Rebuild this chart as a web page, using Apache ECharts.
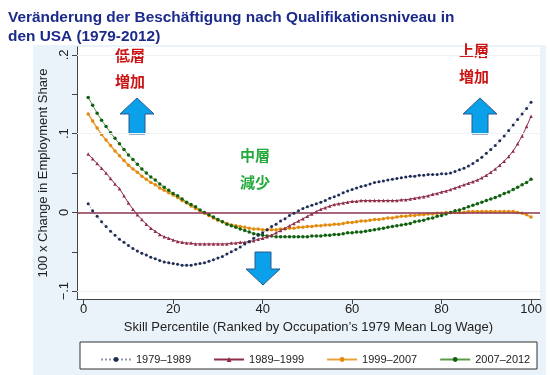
<!DOCTYPE html>
<html>
<head>
<meta charset="utf-8">
<script src="https://cdn.jsdelivr.net/npm/echarts@6/dist/echarts.min.js"></script>
<style>
  html, body { margin: 0; padding: 0; background: #fff; }
  #chart { width: 550px; height: 375px; }
</style>
</head>
<body>
<div id="chart"></div>
<script>
  // Skill percentile 1..100 (x axis)
  var percentiles = [];
  for (var i = 1; i <= 100; i++) percentiles.push(i);

  var seriesNames = ['1979–1989', '1989–1999', '1999–2007', '2007–2012'];

  // 100 x change in employment share, one value per percentile
  var v7989 = [
    0.011, 0.002, -0.005, -0.012, -0.018, -0.024, -0.029, -0.034, -0.038, -0.042,
    -0.046, -0.049, -0.052, -0.054, -0.057, -0.059, -0.061, -0.063, -0.064, -0.065,
    -0.066, -0.067, -0.067, -0.067, -0.066, -0.065, -0.064, -0.062, -0.060, -0.058,
    -0.056, -0.053, -0.050, -0.047, -0.044, -0.040, -0.037, -0.033, -0.029, -0.026,
    -0.022, -0.018, -0.015, -0.011, -0.008, -0.004, -0.001, 0.002, 0.005, 0.007,
    0.009, 0.011, 0.013, 0.015, 0.018, 0.020, 0.022, 0.025, 0.027, 0.029,
    0.031, 0.033, 0.034, 0.036, 0.038, 0.039, 0.040, 0.041, 0.042, 0.043,
    0.044, 0.045, 0.046, 0.046, 0.047, 0.047, 0.048, 0.048, 0.048, 0.049,
    0.049, 0.050, 0.052, 0.054, 0.056, 0.059, 0.062, 0.066, 0.070, 0.075,
    0.080, 0.085, 0.091, 0.097, 0.104, 0.111, 0.118, 0.125, 0.132, 0.140
  ];
  var v8999 = [
    0.074, 0.068, 0.062, 0.056, 0.050, 0.043, 0.036, 0.030, 0.021, 0.012,
    0.004, -0.003, -0.009, -0.015, -0.020, -0.024, -0.028, -0.031, -0.033, -0.035,
    -0.037, -0.038, -0.039, -0.039, -0.040, -0.040, -0.040, -0.040, -0.040, -0.040,
    -0.040, -0.040, -0.039, -0.039, -0.038, -0.038, -0.037, -0.036, -0.034, -0.033,
    -0.031, -0.029, -0.026, -0.023, -0.020, -0.017, -0.014, -0.011, -0.008, -0.005,
    -0.002, 0.001, 0.004, 0.006, 0.008, 0.010, 0.011, 0.012, 0.013, 0.014,
    0.014, 0.015, 0.015, 0.015, 0.015, 0.015, 0.015, 0.015, 0.015, 0.015,
    0.016, 0.016, 0.017, 0.018, 0.019, 0.020, 0.021, 0.023, 0.024, 0.026,
    0.027, 0.029, 0.031, 0.033, 0.035, 0.037, 0.039, 0.041, 0.044, 0.047,
    0.051, 0.055, 0.060, 0.065, 0.071, 0.078, 0.087, 0.097, 0.109, 0.122
  ];
  var v9907 = [
    0.125, 0.116, 0.107, 0.099, 0.092, 0.085, 0.078, 0.072, 0.066, 0.060,
    0.055, 0.051, 0.046, 0.042, 0.038, 0.035, 0.031, 0.028, 0.025, 0.022,
    0.019, 0.015, 0.012, 0.008, 0.005, 0.002, -0.001, -0.004, -0.007, -0.010,
    -0.012, -0.014, -0.016, -0.017, -0.018, -0.019, -0.020, -0.021, -0.021, -0.022,
    -0.022, -0.022, -0.022, -0.021, -0.021, -0.020, -0.020, -0.019, -0.019, -0.018,
    -0.018, -0.017, -0.017, -0.016, -0.016, -0.015, -0.015, -0.014, -0.013, -0.013,
    -0.012, -0.011, -0.011, -0.010, -0.009, -0.009, -0.008, -0.007, -0.007, -0.006,
    -0.005, -0.005, -0.004, -0.004, -0.003, -0.003, -0.002, -0.002, -0.001, -0.001,
    0.000, 0.000, 0.000, 0.000, 0.000, 0.001, 0.001, 0.001, 0.001, 0.001,
    0.001, 0.001, 0.001, 0.001, 0.001, 0.001, 0.000, -0.001, -0.003, -0.006
  ];
  var v0712 = [
    0.146, 0.136, 0.126, 0.117, 0.109, 0.101, 0.094, 0.087, 0.080, 0.073,
    0.067, 0.061, 0.055, 0.050, 0.045, 0.041, 0.036, 0.032, 0.028, 0.024,
    0.021, 0.017, 0.013, 0.010, 0.007, 0.003, 0.000, -0.003, -0.006, -0.009,
    -0.012, -0.015, -0.017, -0.019, -0.021, -0.023, -0.025, -0.027, -0.028, -0.029,
    -0.030, -0.030, -0.031, -0.031, -0.031, -0.031, -0.031, -0.031, -0.031, -0.031,
    -0.030, -0.030, -0.030, -0.029, -0.029, -0.028, -0.028, -0.027, -0.026, -0.026,
    -0.025, -0.025, -0.024, -0.023, -0.022, -0.021, -0.020, -0.019, -0.018, -0.017,
    -0.016, -0.015, -0.014, -0.012, -0.011, -0.010, -0.008, -0.007, -0.005, -0.004,
    -0.002, 0.000, 0.002, 0.003, 0.005, 0.007, 0.009, 0.011, 0.013, 0.015,
    0.017, 0.019, 0.021, 0.024, 0.026, 0.029, 0.032, 0.035, 0.038, 0.042
  ];

  var xTicks = [0, 20, 40, 60, 80, 100];
  var yTicks = [-0.1, -0.05, 0, 0.05, 0.1, 0.15, 0.2];
  var yLabels = [-0.1, 0, 0.1, 0.2];

  function pairs(vals) {
    return percentiles.map(function (p, i) { return [p, vals[i]]; });
  }

  var chart = echarts.init(document.getElementById('chart'));

  var upArrow = function (x, y) {
    // x,y = top centre of arrow
    return [[x, y], [x + 17, y + 16], [x + 8, y + 16], [x + 8, y + 36],
            [x - 8, y + 36], [x - 8, y + 16], [x - 17, y + 16]];
  };
  var downArrow = function (x, y) {
    // x,y = bottom tip of arrow
    return [[x, y], [x + 17, y - 16], [x + 8, y - 16], [x + 8, y - 33],
            [x - 8, y - 33], [x - 8, y - 16], [x - 17, y - 16]];
  };
  var arrowStyle = { fill: '#0aa0ea', stroke: '#2b5b8c', lineWidth: 1 };
  var cjk = '"Noto Sans CJK JP", sans-serif';

  var option = {
    backgroundColor: '#ffffff',
    animation: false,
    textStyle: { fontFamily: 'Liberation Sans, Arial, sans-serif' },
    title: {
      text: 'Veränderung der Beschäftigung nach Qualifikationsniveau in\nden USA (1979-2012)',
      left: 3,
      top: 3,
      textStyle: { color: '#1c2a8c', fontSize: 15.4, fontWeight: 'bold', lineHeight: 19,
                   fontFamily: 'Liberation Sans, Arial, sans-serif' }
    },
    graphic: [
      { type: 'rect', z: -10, shape: { x: 33, y: 45, width: 513, height: 330 },
        style: { fill: '#eaf3f9' } },
      { type: 'rect', z: -9, shape: { x: 77, y: 47, width: 463, height: 252 },
        style: { fill: '#ffffff' } },
      { type: 'rect', z: -8, shape: { x: 80, y: 342, width: 457, height: 27 },
        style: { fill: '#ffffff', stroke: '#333', lineWidth: 1 } },
      { type: 'text', left: 115, top: 48, style: { text: '低層', fill: '#cc1616', font: 'bold 15px ' + cjk } },
      { type: 'text', left: 115, top: 74, style: { text: '増加', fill: '#cc1616', font: 'bold 15px ' + cjk } },
      { type: 'text', left: 459, top: 43, style: { text: '上層', fill: '#cc1616', font: 'bold 15px ' + cjk } },
      { type: 'text', left: 459, top: 69, style: { text: '増加', fill: '#cc1616', font: 'bold 15px ' + cjk } },
      { type: 'text', left: 240, top: 148, style: { text: '中層', fill: '#22aa3a', font: 'bold 15px ' + cjk } },
      { type: 'text', left: 240, top: 175, style: { text: '減少', fill: '#22aa3a', font: 'bold 15px ' + cjk } },
      { type: 'polygon', shape: { points: upArrow(137, 98) }, style: arrowStyle },
      { type: 'polygon', shape: { points: upArrow(480, 98) }, style: arrowStyle },
      { type: 'polygon', shape: { points: downArrow(263, 285) }, style: arrowStyle }
    ],
    legend: {
      left: 95,
      top: 349,
      itemWidth: 30,
      itemHeight: 6,
      itemGap: 22,
      textStyle: { fontSize: 11, color: '#222' },
      data: seriesNames
    },
    grid: { left: 77, right: 10, top: 47, bottom: 76 },
    xAxis: {
      type: 'value',
      min: -1.5,
      max: 102,
      name: 'Skill Percentile (Ranked by Occupation\u2019s 1979 Mean Log Wage)',
      nameLocation: 'middle',
      nameGap: 22,
      nameTextStyle: { fontSize: 13, color: '#222' },
      axisLine: { show: true, onZero: false, lineStyle: { color: '#444' } },
      axisTick: { show: true, length: 5, customValues: xTicks, lineStyle: { color: '#444' } },
      axisLabel: { customValues: xTicks, fontSize: 13, color: '#222', margin: 4 },
      splitLine: { show: false }
    },
    yAxis: {
      type: 'value',
      min: -0.11,
      max: 0.21,
      name: '100 x Change in Employment Share',
      nameLocation: 'middle',
      nameGap: 25,
      nameTextStyle: { fontSize: 13, color: '#222' },
      axisLine: { show: true, onZero: false, lineStyle: { color: '#444' } },
      axisTick: { show: true, length: 5, customValues: yTicks, lineStyle: { color: '#444' } },
      axisLabel: {
        customValues: yLabels,
        rotate: 90,
        fontSize: 13,
        color: '#222',
        margin: 6,
        formatter: function (v) {
          if (Math.abs(v) < 1e-9) return '0';
          var s = String(Math.round(v * 10) / 10).replace('0.', '.');
          return s.replace('-', '\u2212');
        }
      },
      splitLine: { show: false }
    },
    series: [
      {
        name: seriesNames[0], type: 'line', data: pairs(v7989),
        symbol: 'circle', symbolSize: 3, showSymbol: true,
        lineStyle: { color: '#1d2b55', width: 1, type: 'dotted', opacity: 0.5 },
        itemStyle: { color: '#1d2b55' },
        markLine: {
          silent: true, symbol: 'none', label: { show: false },
          data: [
            { yAxis: 0.2, lineStyle: { color: '#eef3f6', width: 1, type: 'solid' } },
            { yAxis: 0.1, lineStyle: { color: '#eef3f6', width: 1, type: 'solid' } },
            { yAxis: -0.1, lineStyle: { color: '#eef3f6', width: 1, type: 'solid' } },
            { yAxis: 0, lineStyle: { color: '#8c3550', width: 1.5, type: 'solid' } }
          ]
        },
        z: 5
      },
      {
        name: seriesNames[1], type: 'line', data: pairs(v8999),
        symbol: 'triangle', symbolSize: 3.5,
        lineStyle: { color: '#8e2c48', width: 1 },
        itemStyle: { color: '#8e2c48' },
        z: 4
      },
      {
        name: seriesNames[2], type: 'line', data: pairs(v9907),
        symbol: 'circle', symbolSize: 3.5,
        lineStyle: { color: '#e8a23a', width: 1.5 },
        itemStyle: { color: '#e38a0c' },
        z: 3
      },
      {
        name: seriesNames[3], type: 'line', data: pairs(v0712),
        symbol: 'circle', symbolSize: 3.5,
        lineStyle: { color: '#5c9a4c', width: 1 },
        itemStyle: { color: '#115f11' },
        z: 3
      }
    ]
  };

  chart.setOption(option);
</script>
</body>
</html>
